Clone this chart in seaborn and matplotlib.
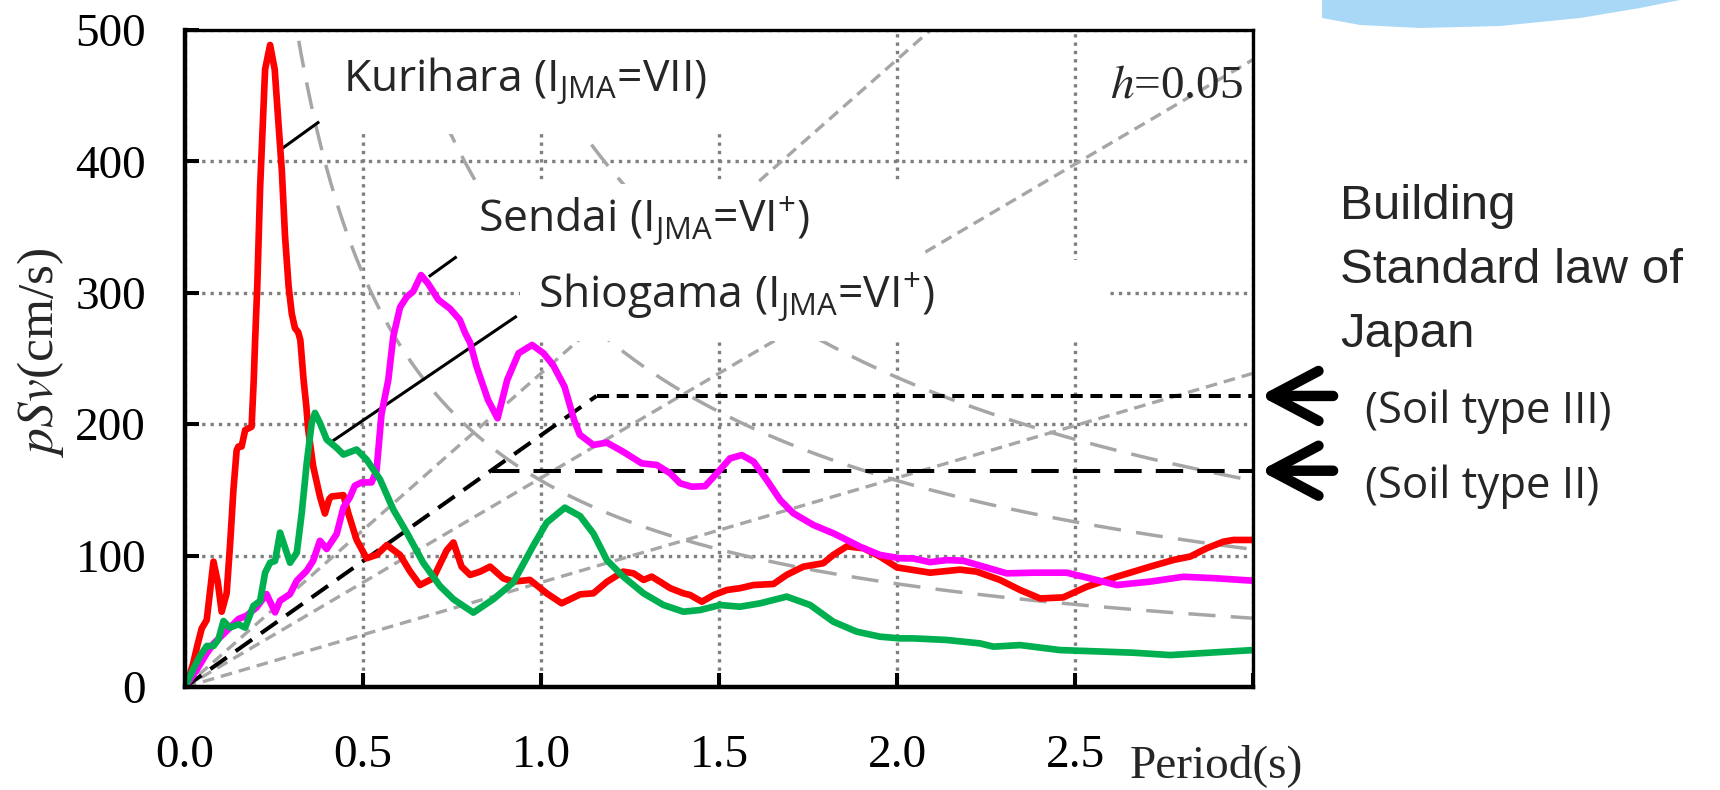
import numpy as np
import pandas as pd
import matplotlib
matplotlib.use("Agg")
import matplotlib.pyplot as plt
import seaborn as sns
from matplotlib.patches import Polygon, Rectangle

# ---------------- data ----------------
kurihara_T = [0.000, 0.012, 0.023, 0.035, 0.047, 0.061, 0.080, 0.092, 0.103, 0.117, 0.127, 0.136,
              0.145, 0.150, 0.159, 0.169, 0.187, 0.193, 0.197, 0.203, 0.211, 0.225, 0.239, 0.252,
              0.262, 0.272, 0.281, 0.291, 0.300, 0.309, 0.318, 0.324, 0.333, 0.341, 0.346, 0.360,
              0.379, 0.393, 0.405, 0.412, 0.445, 0.459, 0.482, 0.510, 0.538, 0.567, 0.604, 0.632,
              0.660, 0.697, 0.735, 0.754, 0.777, 0.801, 0.829, 0.857, 0.894, 0.922, 0.969, 1.016,
              1.058, 1.110, 1.147, 1.185, 1.231, 1.260, 1.288, 1.311, 1.335, 1.363, 1.400, 1.419,
              1.452, 1.485, 1.522, 1.559, 1.597, 1.653, 1.690, 1.737, 1.793, 1.821, 1.859, 1.906,
              1.952, 2.000, 2.093, 2.177, 2.224, 2.289, 2.346, 2.402, 2.467, 2.533, 2.617, 2.711,
              2.777, 2.824, 2.870, 2.917, 2.945, 3.000]
kurihara_v = [0, 8, 18, 32, 44.6, 51, 95.4, 80, 57.3, 71.3, 110, 150,
              180, 183, 183, 195.6, 198, 233, 264, 305, 380, 470, 488.6, 470,
              431, 393, 343, 305, 284, 273, 270, 264, 234, 213, 196, 168,
              145, 132, 143, 145, 146, 132, 112, 98, 100.5, 108, 100.5, 88,
              77.6, 82.7, 104, 110, 91.6, 85.3, 87.8, 91.6, 82.7, 80.2, 81.5, 71.3,
              63.7, 70.5, 71.3, 80, 87.8, 86.5, 81.5, 84, 80, 75.2, 71.3, 70,
              64.9, 70, 73.8, 75.2, 77.6, 78.4, 85.3, 91.6, 94.2, 100.5, 107, 105.6,
              99.3, 91, 87, 89.3, 87.8, 81.5, 73.8, 67.4, 68.2, 76.3, 83.9, 91.6,
              96.7, 99.3, 105.6, 110.6, 111.9, 111.9]

sendai_T = [0.000, 0.033, 0.061, 0.080, 0.108, 0.127, 0.150, 0.173, 0.201, 0.229, 0.253, 0.267,
            0.295, 0.314, 0.342, 0.360, 0.379, 0.398, 0.426, 0.445, 0.463, 0.477, 0.496, 0.524,
            0.538, 0.552, 0.571, 0.585, 0.604, 0.623, 0.641, 0.663, 0.683, 0.712, 0.744, 0.772,
            0.787, 0.801, 0.819, 0.851, 0.878, 0.905, 0.937, 0.975, 1.007, 1.034, 1.066, 1.093,
            1.109, 1.147, 1.185, 1.231, 1.283, 1.325, 1.363, 1.391, 1.424, 1.461, 1.494, 1.531,
            1.564, 1.597, 1.634, 1.672, 1.709, 1.765, 1.821, 1.859, 1.896, 1.952, 2.008, 2.046,
            2.093, 2.139, 2.186, 2.243, 2.308, 2.383, 2.477, 2.542, 2.617, 2.711, 2.805, 2.898,
            3.000]
sendai_v = [0, 13, 25.6, 33, 40.3, 45.4, 51.7, 54.3, 60.6, 70.7, 56.8, 65.7,
            70.7, 80.9, 88.5, 96.1, 111.3, 105, 116.4, 136.7, 144.3, 153.2, 155.7, 155.7,
            164.6, 207.8, 233.6, 266.6, 289, 297, 301, 313.5, 307, 294.6, 288, 279.4,
            269.3, 262, 243.9, 218.6, 204.5, 233.6, 254, 260.3, 254, 245, 228.6, 203.2,
            192, 184.2, 186, 179, 170.2, 169, 162.6, 155, 152.4, 152.9, 162.6, 174,
            176.5, 171.5, 157.6, 142.3, 132.2, 123.3, 117, 111.9, 106.8, 100.5, 98, 97.8,
            95, 96.6, 96.1, 91.6, 86.5, 87, 87, 82.7, 77.6, 80.2, 83.9, 82.7,
            80.9]

shiogama_T = [0.000, 0.023, 0.042, 0.061, 0.080, 0.094, 0.108, 0.126, 0.150, 0.169, 0.192, 0.211,
              0.225, 0.239, 0.253, 0.267, 0.281, 0.295, 0.314, 0.328, 0.342, 0.356, 0.365, 0.379,
              0.398, 0.426, 0.445, 0.482, 0.510, 0.548, 0.585, 0.623, 0.669, 0.716, 0.754, 0.810,
              0.866, 0.922, 0.978, 1.016, 1.067, 1.110, 1.147, 1.185, 1.231, 1.288, 1.344, 1.400,
              1.447, 1.503, 1.559, 1.616, 1.690, 1.756, 1.821, 1.887, 1.952, 2.008, 2.046, 2.139,
              2.233, 2.271, 2.346, 2.458, 2.664, 2.767, 3.000]
shiogama_v = [0, 13.5, 23.6, 31.2, 31.2, 36.3, 50.2, 45.2, 47.7, 45.2, 61.7, 65.5,
              87, 94.6, 95.9, 117.5, 106.1, 94.6, 102.2, 132.6, 170.6, 201, 208.6, 201,
              188.3, 182, 176.9, 180.7, 173.1, 157.9, 135.1, 117.5, 94.6, 76.9, 66.8, 56.6,
              66.8, 79.5, 107.4, 125.1, 136.5, 130, 116.9, 96.6, 84, 71.3, 62.4, 57.3,
              58.6, 62.4, 61.1, 63.7, 68.8, 62.4, 49.7, 42.1, 38.3, 37, 37, 35.8,
              33.2, 30.7, 31.9, 28.1, 26.1, 24.3, 28.1]

site_names = ["Kurihara", "Sendai", "Shiogama"]
site_colors = ["#ff0000", "#ff00ff", "#00b050"]
site_labels = [r"Kurihara (I$_{\mathrm{JMA}}$=VII)",
               r"Sendai (I$_{\mathrm{JMA}}$=VI$^{+}$)",
               r"Shiogama (I$_{\mathrm{JMA}}$=VI$^{+}$)"]
label_T = [0.445, 0.824, 0.991]
label_v = [453.8, 346.5, 288.6]
leader_T = [[0.267, 0.377], [0.685, 0.763], [0.412, 0.932]]
leader_v = [[408.7, 430.2], [312.3, 327.5], [186.7, 282.3]]

# tripartite reference levels
accel_levels_gal = [500, 1000, 1500]     # constant pseudo-acceleration
disp_levels_cm = [25, 50, 75]            # constant displacement

# Building Standard Law spectra
bsl_soil3_T = [0.0, 1.156, 3.0]
bsl_soil3_v = [0.0, 221.5, 221.5]
bsl_soil2_T = [0.0, 0.862, 3.0]
bsl_soil2_v = [0.0, 164.6, 164.6]
bsl_names = ["(Soil type III)", "(Soil type II)"]

x_ticks = [0.0, 0.5, 1.0, 1.5, 2.0, 2.5, 3.0]
x_tick_labels = ["0.0", "0.5", "1.0", "1.5", "2.0", "2.5", ""]
y_ticks = [0, 100, 200, 300, 400, 500]
y_tick_labels = ["0", "100", "200", "300", "400", "500"]

# ---------------- style ----------------
sns.set_theme(style="white")
plt.rcParams["font.family"] = ["Liberation Serif", "DejaVu Serif"]
plt.rcParams["mathtext.fontset"] = "custom"
plt.rcParams["mathtext.rm"] = "Open Sans"
plt.rcParams["mathtext.it"] = "Open Sans"
plt.rcParams["mathtext.bf"] = "Open Sans:bold"

W, H = 1720, 790
fig = plt.figure(figsize=(W / 100, H / 100), dpi=100)
fig.patch.set_facecolor("white")
ax = fig.add_axes([185 / W, 1 - 687 / H, 1068 / W, 657 / H])
ax.set_facecolor("white")

# grid
ax.set_axisbelow(True)
ax.grid(True, color="#7f7f7f", linestyle=(0, (1, 1.5)), linewidth=2.4, zorder=0)

# constant acceleration lines (short dash, grey)
Tg = np.linspace(0.0, 3.0, 400)
for sa in accel_levels_gal:
    ax.plot(Tg, sa * Tg / (2 * np.pi), color="#a6a6a6", lw=2.4,
            linestyle=(0, (3.5, 2.1)), zorder=1.5)
# constant displacement lines (long dash, grey)
Td = np.linspace(0.25, 3.0, 400)
for sd in disp_levels_cm:
    ax.plot(Td, 2 * np.pi * sd / Td, color="#a6a6a6", lw=2.5,
            linestyle=(0, (7.8, 4.4)), zorder=1.5)

# Building Standard Law (black dashed)
ax.plot(bsl_soil3_T[:2], bsl_soil3_v[:2], color="black", lw=2.9,
        linestyle=(0, (5, 2.7)), zorder=2)
ax.plot(bsl_soil3_T[1:], bsl_soil3_v[1:], color="black", lw=2.9,
        linestyle=(0, (3, 1.9)), zorder=2)
ax.plot(bsl_soil2_T[1:], bsl_soil2_v[1:], color="black", lw=2.9,
        linestyle=(0, (6.8, 3.5)), zorder=2)

# white backing boxes of the annotation labels (they hide the grid behind them)
for (x0, x1, y0, y1) in [(0.42, 1.70, 421, 497), (0.79, 2.08, 325, 383),
                         (0.94, 2.59, 263, 325)]:
    ax.add_patch(Rectangle((x0, y0), x1 - x0, y1 - y0, fc="white", ec="none",
                           zorder=2.5))

# response spectra via seaborn
df = pd.concat([
    pd.DataFrame({"T": kurihara_T, "pSv": kurihara_v, "site": site_names[0]}),
    pd.DataFrame({"T": sendai_T, "pSv": sendai_v, "site": site_names[1]}),
    pd.DataFrame({"T": shiogama_T, "pSv": shiogama_v, "site": site_names[2]}),
], ignore_index=True)
n_before = len(ax.lines)
sns.lineplot(data=df, x="T", y="pSv", hue="site", hue_order=site_names,
             palette=site_colors, linewidth=4.8, legend=False, sort=False,
             estimator=None, ax=ax)
for ln in ax.lines[n_before:]:
    ln.set_linewidth(4.8)
    ln.set_zorder(5)
    ln.set_solid_joinstyle("round")
    ln.set_solid_capstyle("round")

# leader lines and labels
for lt, lv in zip(leader_T, leader_v):
    ax.plot(lt, lv, color="black", lw=2.2, solid_capstyle="butt", zorder=4)
for txt, tx, ty in zip(site_labels, label_T, label_v):
    ax.text(tx, ty, txt, ha="left", va="baseline", fontsize=32,
            family=["Open Sans", "DejaVu Sans"],
            bbox=dict(boxstyle="square,pad=0.1", fc="white", ec="none"),
            zorder=3)

ax.text(2.972, 449, r"$h$=0.05", ha="right", va="baseline", fontsize=34,
        family="Liberation Serif", math_fontfamily="stix", zorder=3)

# axes
ax.set_xlim(0, 3.0)
ax.set_ylim(0, 500)
ax.set_xticks(x_ticks)
ax.set_xticklabels(x_tick_labels)
ax.set_yticks(y_ticks)
ax.set_yticklabels(y_tick_labels)
ax.set_xlabel("")
ax.set_ylabel("")
ax.tick_params(axis="both", direction="in", length=10, width=2.9,
               labelsize=34, colors="black", bottom=True, left=True,
               top=False, right=False)
ax.tick_params(axis="x", pad=34)
ax.tick_params(axis="y", pad=28)
for s in ["left", "bottom"]:
    ax.spines[s].set_linewidth(3.2)
    ax.spines[s].set_color("black")
for s in ["top", "right"]:
    ax.spines[s].set_linewidth(2.4)
    ax.spines[s].set_color("black")
for sp in ax.spines.values():
    sp.set_zorder(6)

fig.text(1130 / W, 1 - 777 / H, "Period(s)", fontsize=34,
         family="Liberation Serif", ha="left", va="baseline")
fig.text(41 / W, 1 - 352 / H, r"$pSv$(cm/s)", fontsize=37, rotation=90,
         family="Liberation Serif", math_fontfamily="stix",
         ha="center", va="center")

# arrows pointing at the BSL plateaus
for lv in [bsl_soil3_v[-1], bsl_soil2_v[-1]]:
    ax.annotate("", xy=(3.02, lv), xytext=(3.225, lv),
                arrowprops=dict(arrowstyle="->,head_length=0.85,head_width=0.45",
                                lw=7.5, color="black", mutation_scale=40,
                                shrinkA=0, shrinkB=0, capstyle="round",
                                joinstyle="round"),
                annotation_clip=False)

# right-hand texts
for t, yb in zip(["Building", "Standard law of", "Japan"], [219, 283, 347]):
    fig.text(1340 / W, 1 - yb / H, t, fontsize=35.5,
             family=["Liberation Sans", "DejaVu Sans"], ha="left", va="baseline")
for t, yb in zip(bsl_names, [423, 498]):
    fig.text(1365 / W, 1 - yb / H, t, fontsize=31.5,
             family=["Open Sans", "DejaVu Sans"], ha="left", va="baseline")

# decorative light-blue swoosh at the top right
sw_px = [(1322, -2), (1322, 18), (1360, 25), (1420, 28), (1500, 26),
         (1580, 18), (1640, 8), (1690, -2)]
sw = Polygon([(x / W, 1 - y / H) for x, y in sw_px], closed=True,
             transform=fig.transFigure, fc="#a9d8f7", ec="none", zorder=0)
fig.patches.append(sw)

fig.savefig("out.png", dpi=100, facecolor="white")
